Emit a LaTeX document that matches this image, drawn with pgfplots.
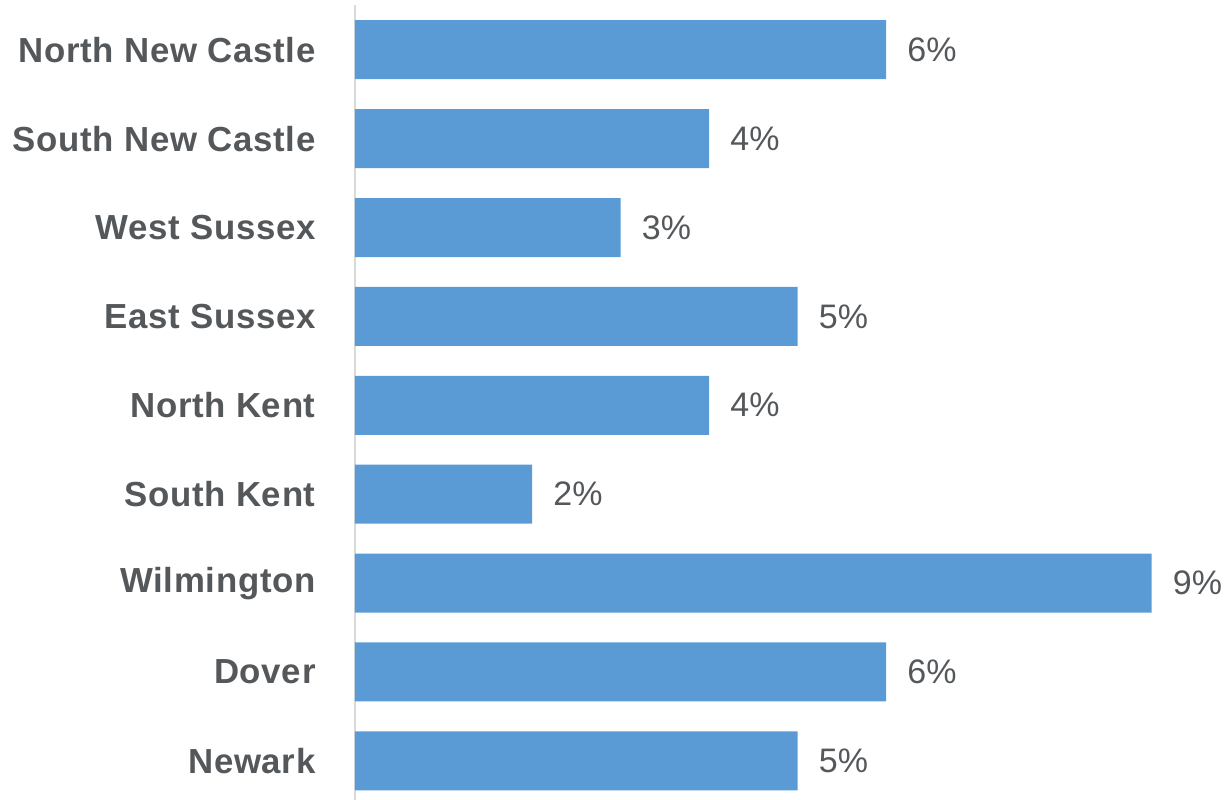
\documentclass[border=0pt]{standalone}
\usepackage{fontspec}
\setmainfont{Liberation Sans}
\newfontfamily\lblfont[LetterSpace=2]{Liberation Sans}
\usepackage{pgfplots}
\pgfplotsset{compat=1.18}
\definecolor{barblue}{HTML}{5B9BD5}
\definecolor{txtgray}{HTML}{55585B}
\definecolor{axgray}{HTML}{D9D9D9}
\begin{document}
\begin{tikzpicture}
\begin{axis}[
  /pgf/number format/assume math mode=true,
  scale only axis,
  width=436.5pt, height=397.35pt,
  xbar, bar width=29.5pt,
  xmin=0, xmax=9.864,
  ymin=-0.44, ymax=8.5,
  axis x line=none,
  axis y line*=left,
  y axis line style={draw=axgray, line width=1pt},
  ytick={0,...,8},
  yticklabels={Newark,Dover,Wilmington,South Kent,North Kent,East Sussex,West Sussex,South New Castle,North New Castle},
  major tick length=0pt,
  yticklabel style={font=\lblfont\bfseries\fontsize{17.4}{20}\selectfont, text=txtgray, inner sep=0pt, xshift=-19.5pt},
  clip=false,
  nodes near coords={\pgfmathprintnumber[assume math mode=true]{\pgfplotspointmeta}\%},
  nodes near coords style={font=\fontsize{17}{20}\selectfont, text=txtgray, anchor=west, inner sep=0pt, xshift=10.5pt},
  point meta=x,
]
\addplot[fill=barblue, draw=none] coordinates {
  (5,0) (6,1) (9,2) (2,3) (4,4) (5,5) (3,6) (4,7) (6,8)
};
\end{axis}
\pgfresetboundingbox
\path (current axis.south west) ++(-177.5pt,0) rectangle ([yshift=2.65pt]current axis.north east);
\end{tikzpicture}
\end{document}
